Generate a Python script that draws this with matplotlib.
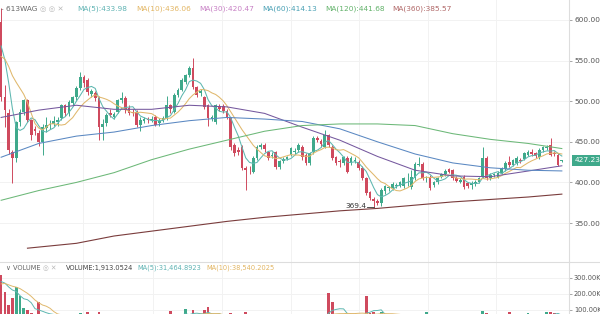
import numpy as np
import pandas as pd
import matplotlib
matplotlib.use("Agg")
import matplotlib.pyplot as plt
from matplotlib.lines import Line2D
from matplotlib.transforms import blended_transform_factory

# candles (one per bar)
opens = [598, 505, 485, 437, 430, 474, 487, 501, 477, 466, 461, 450, 467, 471, 472, 474, 479, 495, 485, 498,
         505, 516, 530, 526, 509, 510, 504, 468, 473, 486, 481, 487, 501, 504, 492, 487, 487, 471, 476, 478,
         477, 481, 473, 476, 479, 495, 487, 508, 514, 524, 532, 541, 517, 510, 505, 495, 478, 474, 494, 494,
         488, 479, 446, 440, 444, 418, 417, 413, 430, 444, 446, 437, 432, 437, 419, 426, 429, 434, 438, 440,
         444, 434, 424, 437, 455, 451, 444, 458, 444, 431, 426, 424, 430, 424, 426, 425, 418, 405, 388, 380,
         377, 375, 389, 393, 393, 396, 396, 395, 400, 394, 405, 422, 423, 405, 407, 397, 400, 407, 410, 416,
         415, 406, 401, 407, 399, 397, 398, 401, 407, 430, 405, 409, 407, 412, 416, 425, 422, 424, 428, 429,
         434, 438, 436, 431, 440, 442, 446, 436, 434, 426]
highs = [615, 520, 490, 440, 476, 490, 503, 503, 478, 470, 464, 472, 480, 477, 482, 480, 497, 497, 501, 507,
         519, 536, 532, 528, 515, 512, 506, 478, 486, 490, 487, 503, 511, 506, 495, 490, 489, 480, 481, 481,
         482, 483, 479, 482, 506, 497, 510, 516, 528, 534, 543, 553, 519, 515, 507, 497, 483, 497, 496, 496,
         490, 481, 448, 443, 446, 420, 420, 432, 446, 449, 448, 439, 437, 439, 428, 431, 433, 444, 442, 448,
         446, 436, 438, 457, 457, 453, 464, 460, 446, 433, 429, 433, 432, 432, 431, 427, 420, 407, 390, 382,
         379, 393, 397, 396, 400, 399, 402, 407, 412, 415, 425, 431, 425, 408, 409, 402, 407, 412, 416, 418,
         417, 408, 405, 409, 400, 402, 403, 407, 444, 432, 411, 412, 414, 419, 426, 432, 429, 432, 430, 438,
         440, 441, 438, 442, 445, 446, 455, 439, 436, 428]
lows = [500, 468, 435, 399, 425, 470, 483, 474, 452, 458, 445, 434, 462, 466, 469, 470, 477, 482, 482, 495,
        502, 514, 518, 508, 505, 500, 452, 452, 470, 480, 478, 485, 498, 486, 483, 482, 468, 463, 473, 473,
        474, 469, 470, 474, 477, 486, 485, 505, 512, 521, 530, 515, 505, 506, 490, 470, 475, 472, 488, 485,
        478, 440, 433, 434, 415, 391, 410, 411, 428, 441, 438, 428, 430, 417, 417, 424, 427, 432, 435, 438,
        428, 421, 422, 435, 450, 444, 442, 443, 428, 421, 419, 422, 411, 422, 424, 415, 403, 385, 378, 369.4,
        372, 371, 386, 390, 391, 393, 394, 393, 395, 392, 403, 420, 403, 401, 391, 394, 398, 405, 408, 411,
        403, 400, 399, 392, 393, 392, 396, 399, 405, 403, 403, 407, 405, 410, 414, 419, 420, 422, 424, 427,
        432, 433, 430, 429, 438, 440, 432, 432, 420, 425]
closes = [505, 489, 440, 430, 474, 487, 501, 477, 458, 463, 450, 468, 471, 472, 475, 477, 495, 485, 499, 505,
          516, 530, 522, 511, 512, 504, 468, 472, 483, 483, 484, 501, 504, 489, 486, 486, 471, 477, 478, 477,
          478, 471, 476, 479, 495, 490, 508, 514, 526, 532, 541, 517, 508, 512, 493, 479, 480, 495, 491, 488,
          481, 444, 436, 438, 418, 415, 416, 430, 444, 446, 441, 430, 434, 419, 426, 429, 431, 442, 439, 446,
          431, 424, 436, 455, 452, 447, 458, 446, 430, 424, 425, 431, 413, 430, 428, 418, 405, 387, 381, 377,
          375, 391, 395, 394, 398, 397, 400, 405, 401, 407, 423, 423, 405, 405, 393, 400, 405, 410, 414, 413,
          405, 402, 403, 394, 396, 399, 401, 405, 430, 405, 409, 410, 412, 417, 424, 421, 427, 430, 426, 436,
          438, 435, 432, 440, 443, 444, 434, 435, 422, 427.23]
prior_closes = [520, 530, 545, 555, 560, 575, 580, 590, 590]

# volume in thousands
volumes = [320, 210, 130, 175, 245, 190, 112, 100, 80, 60, 150, 70, 55, 45, 40, 42, 60, 50, 55, 58,
           62, 80, 70, 90, 50, 55, 85, 60, 50, 45, 40, 55, 60, 58, 45, 40, 60, 50, 35, 32,
           30, 45, 35, 38, 70, 95, 65, 55, 60, 105, 70, 100, 65, 45, 100, 120, 50, 60, 55, 45,
           50, 80, 60, 45, 75, 85, 50, 55, 60, 45, 40, 45, 35, 55, 40, 35, 32, 40, 35, 40,
           45, 50, 45, 60, 40, 38, 55, 205, 150, 70, 60, 50, 60, 50, 40, 55, 65, 190, 80, 90,
           60, 85, 55, 45, 40, 38, 42, 50, 45, 55, 70, 60, 75, 90, 60, 45, 40, 42, 45, 40,
           50, 42, 38, 55, 45, 40, 38, 42, 95, 80, 50, 42, 40, 45, 55, 85, 50, 55, 45, 60,
           82, 50, 45, 55, 60, 85, 90, 80, 78, 1.9]
prior_volumes = [180, 220, 260, 300, 280, 260, 250, 270, 290]

# longer moving averages, sampled along the bars
ma_idx = [0, 10, 20, 30, 40, 50, 60, 70, 80, 90, 100, 110, 120, 130, 140, 149]
ma30 = [480, 489, 495, 490, 490, 495, 493, 485, 468, 452, 432, 415, 408, 407, 414, 420.47]
ma60 = [431, 448, 457, 462, 470, 476, 480, 478, 475, 466, 450, 435, 424, 418, 415, 414.13]
ma120 = [378, 390, 400, 412, 428, 441, 452, 463, 470, 472, 472, 470, 460, 453, 448, 441.68]
ma360_idx = [7, 20, 30, 40, 50, 60, 70, 80, 90, 100, 110, 120, 130, 140, 149]
ma360 = [319, 325, 334, 340, 346, 352, 357, 361, 365, 368, 372, 376, 379, 382, 385.57]

price_ticks = [350, 400, 450, 500, 550, 600]
vol_ticks = [100, 200, 300]

GREEN = "#3fa98b"
RED = "#cf4a5e"
GRID = "#f2f2f2"
TXT = "#555555"

o = np.array(opens, dtype=float)
h = np.array(highs, dtype=float)
l = np.array(lows, dtype=float)
c = np.array(closes, dtype=float)
v = np.array(volumes, dtype=float)
x = np.arange(len(c))
col = np.where(c >= o, GREEN, RED)

allc = pd.Series(prior_closes + closes)
ma5 = allc.rolling(5).mean().values[len(prior_closes):]
ma10 = allc.rolling(10).mean().values[len(prior_closes):]
allv = pd.Series(prior_volumes + volumes)
vma5 = allv.rolling(5).mean().values[len(prior_volumes):]
vma10 = allv.rolling(10).mean().values[len(prior_volumes):]

plt.rcParams["font.family"] = ["DejaVu Sans"]
W, H = 600, 314
fig = plt.figure(figsize=(6, 3.14), dpi=100)
ax = fig.add_axes([0, 52 / H, 569 / W, 262 / H])
axv = fig.add_axes([0, 0, 569 / W, 52 / H], sharex=ax)

grid_x = [21.75, 40.3, 58.6, 76.9, 95.2, 113.5, 131.6]
for a in (ax, axv):
    for s in ("top", "left", "bottom"):
        a.spines[s].set_visible(False)
    a.spines["right"].set_color("#dddddd")
    a.spines["right"].set_linewidth(0.8)
    a.yaxis.tick_right()
    a.tick_params(axis="y", length=2, width=0.6, pad=2, labelsize=5.3, colors="#999999", labelcolor=TXT)
    a.tick_params(axis="x", length=0, labelbottom=False)
    a.set_xticks(grid_x)
    a.grid(True, color=GRID, lw=0.7)
    a.set_axisbelow(True)

# price pane
ax.vlines(x, l, h, color=col, lw=0.7, zorder=2)
body = np.maximum(np.abs(c - o), 0.9)
ax.bar(x, body, bottom=np.minimum(o, c), width=0.72, color=col, lw=0, zorder=3)
ax.plot(x, ma5, color="#5db7b0", lw=0.75, zorder=4)
ax.plot(x, ma10, color="#e0b86c", lw=0.75, zorder=4)
ax.plot(ma_idx, ma30, color="#75589e", lw=0.75, zorder=4)
ax.plot(ma_idx, ma60, color="#5a88c2", lw=0.75, zorder=4)
ax.plot(ma_idx, ma120, color="#6cb878", lw=0.75, zorder=4)
ax.plot(ma360_idx, ma360, color="#7a3c3c", lw=0.8, zorder=4)

ax.set_xlim(-0.3, 150.9)
ax.set_ylim(302, 624.6)
ax.set_yticks(price_ticks)
ax.set_yticklabels([f"{t:.2f}" for t in price_ticks])

# lowest low marker
lo = int(np.argmin(l))
ax.plot([lo - 1.7, lo], [l[lo], l[lo]], color="#333333", lw=0.6, zorder=5)
ax.text(lo - 1.9, l[lo] + 1, f"{l[lo]:.1f}", ha="right", va="center", fontsize=5.3, color="#333333")

# last price tag
tr = blended_transform_factory(ax.transAxes, ax.transData)
ax.text(1.01, c[-1], f"{c[-1]:.2f}", transform=tr, ha="left", va="center", fontsize=5.3, color="white",
        bbox=dict(boxstyle="square,pad=0.3", fc=GREEN, ec="none"), clip_on=False, zorder=6)

# volume pane
axv.bar(x, v, width=0.72, color=col, lw=0)
axv.plot(x, vma5, color="#5db7b0", lw=0.7)
axv.plot(x, vma10, color="#e0b86c", lw=0.7)
axv.set_ylim(75, 400)
axv.set_yticks(vol_ticks)
axv.set_yticklabels([f"{t:.2f}K" for t in vol_ticks])
axv.tick_params(axis="y", labelsize=4.8, pad=1.5)

fig.add_artist(Line2D([0, 1], [52 / H, 52 / H], color="#dddddd", lw=0.8))

# headers
def hdr(px, py, s, color, size=5.3):
    fig.text(px / W, 1 - py / H, s, color=color, fontsize=size, va="center", ha="left")

hdr(1, 9, "- 613WAG", "#666666")
hdr(40, 9, "◎ ◎ ✕", "#bbbbbb")
hdr(77, 9, "MA(5):433.98", "#5fb3b3")
hdr(136, 9, "MA(10):436.06", "#e2b562")
hdr(199, 9, "MA(30):420.47", "#c77fc4")
hdr(262, 9, "MA(60):414.13", "#49a0b4")
hdr(325, 9, "MA(120):441.68", "#62b26a")
hdr(392, 9, "MA(360):385.57", "#b06767")

hdr(6, 268, "∨ VOLUME", "#666666", 4.8)
hdr(43, 268, "◎ ✕", "#bbbbbb", 4.8)
hdr(66, 268, "VOLUME:1,913.0524", "#444444", 4.8)
hdr(137, 268, "MA(5):31,464.8923", "#5fb3b3", 4.8)
hdr(206, 268, "MA(10):38,540.2025", "#e2b562", 4.8)

fig.savefig("out.png", dpi=100)
